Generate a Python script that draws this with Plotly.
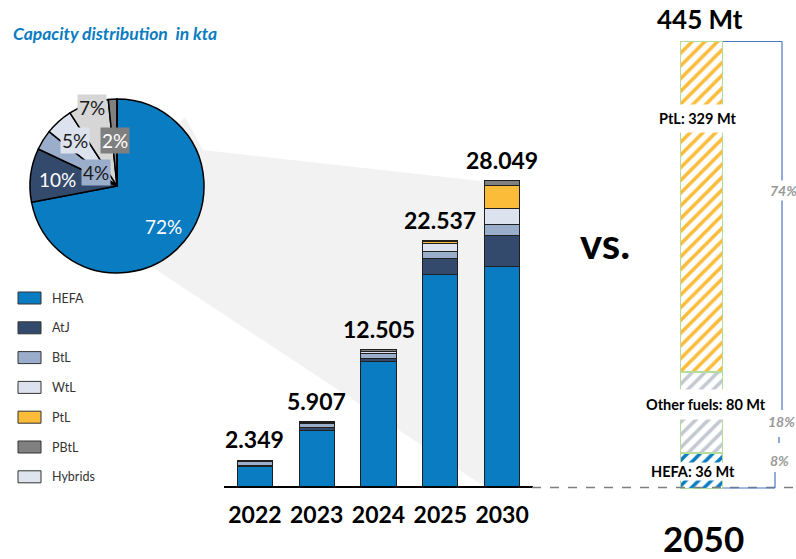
import math
import plotly.graph_objects as go

# ---------------- data ----------------
years = ["2022", "2023", "2024", "2025", "2030"]
hefa = [1780, 5100, 11400, 19450, 20200]
atj = [150, 280, 300, 1450, 2800]
btl = [280, 380, 500, 650, 1050]
wtl = [70, 80, 150, 750, 1450]
ptl = [0, 0, 0, 200, 2100]
pbtl = [69, 67, 155, 37, 449]
hybrids = [0, 0, 0, 0, 0]

series_names = ["HEFA", "AtJ", "BtL", "WtL", "PtL", "PBtL", "Hybrids"]
series_values = [hefa, atj, btl, wtl, ptl, pbtl, hybrids]

fuels_2050 = ["HEFA", "Other fuels", "PtL"]
mt_2050 = [36, 80, 329]
year_2050 = "2050"

# ---------------- styles ----------------
colors = ["#0a7cc1", "#344a6c", "#9aaecb", "#dde3ee", "#fbbc3a", "#808080", "#dfe5ee"]
pie_colors = ["#0a7cc1", "#344a6c", "#9aaecb", "#dde3ee", "#d6d6d6", "#808080", "#dfe5ee"]
colors_2050 = ["#0a7cc1", "#c3c8d1", "#fbbc3a"]
FONT = "Lato"
W, H = 796, 559
PIE_C = (117, 186)
PIE_R = 87


def X(p):
    return p / W


def Y(p):
    return 1 - p / H


def note(px, py, text, size, color="black", **kw):
    d = dict(x=X(px), y=Y(py), xref="paper", yref="paper", showarrow=False,
             xanchor="center", yanchor="middle", text=text,
             font=dict(family=FONT, size=size, color=color))
    d.update(kw)
    return d


fig = go.Figure()

# stacked bars
for name, vals, c in zip(series_names, series_values, colors):
    fig.add_trace(go.Bar(
        x=years, y=[v if v else None for v in vals], name=name,
        marker=dict(color=c, line=dict(color="#1f1f1f", width=1)),
        width=0.57, xaxis="x", yaxis="y", showlegend=False,
    ))

# pie of last year
pie_vals = [v[-1] for v in series_values]
fig.add_trace(go.Pie(
    labels=series_names, values=pie_vals, sort=False, direction="clockwise",
    rotation=0, textinfo="none", showlegend=False,
    marker=dict(colors=pie_colors, line=dict(color="black", width=1.5)),
    domain=dict(x=[X(PIE_C[0] - PIE_R), X(PIE_C[0] + PIE_R)],
                y=[Y(PIE_C[1] + PIE_R), Y(PIE_C[1] - PIE_R)]),
))

# 2050 column
for f, v, c in zip(fuels_2050, mt_2050, colors_2050):
    fig.add_trace(go.Bar(
        x=[year_2050], y=[v], name=f, width=1, xaxis="x2", yaxis="y2", showlegend=False,
        marker=dict(color="white", line=dict(color="#b5dc9a", width=1.5),
                    pattern=dict(shape="/", fgcolor=c, bgcolor="white", size=9,
                                 solidity=0.4, fgopacity=1)),
    ))

annotations = []
shapes = []

# totals above bars
totals = [sum(v[i] for v in series_values) for i in range(len(years))]
for i, t in enumerate(totals):
    annotations.append(dict(
        x=i, y=t, xref="x", yref="y", xanchor="center", yanchor="bottom", yshift=5,
        showarrow=False, text="<b>" + f"{t:,}".replace(",", ".") + "</b>",
        font=dict(family=FONT, size=23, color="black"),
    ))

# pie percentage labels
tot_pie = sum(pie_vals)
pie_label_style = [
    (163, 226, "white", None),
    (57, 179, "white", None),
    (96, 173, "#1a1a1a", "#9aaecb"),
    (75, 140, "#1a1a1a", "#dde3ee"),
    (92, 108, "#1a1a1a", "#d6d6d6"),
    (115, 140, "white", "#7f7f7f"),
]
for (px, py, fc, bg), val in zip(pie_label_style, pie_vals):
    a = note(px, py, f"{round(val / tot_pie * 100)}%", 19, fc, borderpad=1)
    if bg:
        a["bgcolor"] = bg
    annotations.append(a)

# manual legend
for i, (name, c) in enumerate(zip(series_names, colors)):
    yc = 298 + i * 29.8
    shapes.append(dict(type="rect", xref="paper", yref="paper",
                       x0=X(18), x1=X(41), y0=Y(yc + 6), y1=Y(yc - 6),
                       fillcolor=c, line=dict(color="#333333", width=1)))
    annotations.append(note(50, yc, name, 12.5, "#333333", xanchor="left"))

# title
annotations.append(note(11, 33, "<b><i>Capacity distribution\u00a0 in kta</i></b>", 17.5,
                        "#0a7cc1", xanchor="left"))

# vs.
annotations.append(note(605, 243, "<b>vs.</b>", 42))

# 2050 texts
total_2050 = sum(mt_2050)
annotations.append(note(700, 19, f"<b>{total_2050} Mt</b>", 26))
annotations.append(note(703, 559, f"<b>{year_2050}</b>", 35, yanchor="bottom",
                        borderpad=0, borderwidth=0))

label_style_2050 = [(693, 471, 0), (706, 404, 6), (697, 118, 5)]
for (px, py, pad), f, v in zip(label_style_2050, fuels_2050, mt_2050):
    annotations.append(note(px, py, f"<b>{f}: {v} Mt</b>", 14.5, bgcolor="white", borderpad=pad))

pct_pos = [(779, 460), (781, 422), (783, 190)]
for (px, py), v in zip(pct_pos, mt_2050):
    annotations.append(note(px, py, f"<b><i>{round(v / total_2050 * 100)}%</i></b>", 14,
                            "#999999", bgcolor="white"))

# gray projection polygon (hugging the pie edge so it stays visually behind it)
cx, cy = PIE_C
rr = PIE_R + 0.5
E = (485, 487)
slope = 0.661
F = None
x = E[0]
while x > cx:
    y = E[1] - slope * (E[0] - x)
    if (x - cx) ** 2 + (y - cy) ** 2 <= rr ** 2:
        F = (x, y)
        break
    x -= 0.25
angF = math.atan2(F[1] - cy, F[0] - cx)
A = (185, 117)
angG = math.atan2(A[1] - cy, A[0] - cx)
pts = [A, (203, 150), (485, 181.5), E, F]
n = 40
for k in range(1, n + 1):
    t = angF + (angG - angF) * k / n
    pts.append((cx + rr * math.cos(t), cy + rr * math.sin(t)))
path = "M " + " L ".join(f"{X(a):.5f},{Y(b):.5f}" for a, b in pts) + " Z"
shapes.append(dict(type="path", xref="paper", yref="paper", path=path,
                   fillcolor="#f2f2f2", line=dict(width=0), layer="below"))

# dashed baseline extension
shapes.append(dict(type="line", xref="paper", yref="paper", x0=X(532), x1=X(796),
                   y0=Y(487.5), y1=Y(487.5), line=dict(color="#7f7f7f", width=1.3, dash="dash")))

# bracket lines
BL = "#4a76c0"
for x0, y0, x1, y1 in [(723, 41.5, 782, 41.5), (782, 41.5, 782, 410), (779, 437, 779, 443),
                       (775, 472, 775, 488), (723, 488, 775, 488)]:
    shapes.append(dict(type="line", xref="paper", yref="paper", x0=X(x0), x1=X(x1),
                       y0=Y(y0), y1=Y(y1), line=dict(color=BL, width=1.2)))

fig.update_layout(
    template="none",
    width=W, height=H, margin=dict(l=0, r=0, t=0, b=0, pad=0, autoexpand=False),
    paper_bgcolor="white", plot_bgcolor="rgba(0,0,0,0)",
    barmode="stack", showlegend=False,
    xaxis=dict(domain=[X(224), X(533)], anchor="y", type="category", automargin=False,
               range=[-0.5, len(years) - 0.5],
               showline=True, linecolor="black",
               linewidth=2, ticks="outside", ticklen=7, tickcolor="rgba(0,0,0,0)",
               tickfont=dict(family=FONT, size=23, color="black", weight="bold"),
               showgrid=False, zeroline=False, fixedrange=True),
    yaxis=dict(domain=[Y(486), Y(100)], anchor="x", range=[0, 386 / 10.88 * 1000],
               visible=False, automargin=False, fixedrange=True),
    xaxis2=dict(domain=[X(680), X(723)], anchor="y2", range=[-0.5, 0.5], type="category",
                visible=False, automargin=False, fixedrange=True),
    yaxis2=dict(domain=[Y(489), Y(41)], anchor="x2", range=[0, total_2050],
                visible=False, automargin=False, fixedrange=True),
    annotations=annotations, shapes=shapes,
)

fig.write_html("out.html")
